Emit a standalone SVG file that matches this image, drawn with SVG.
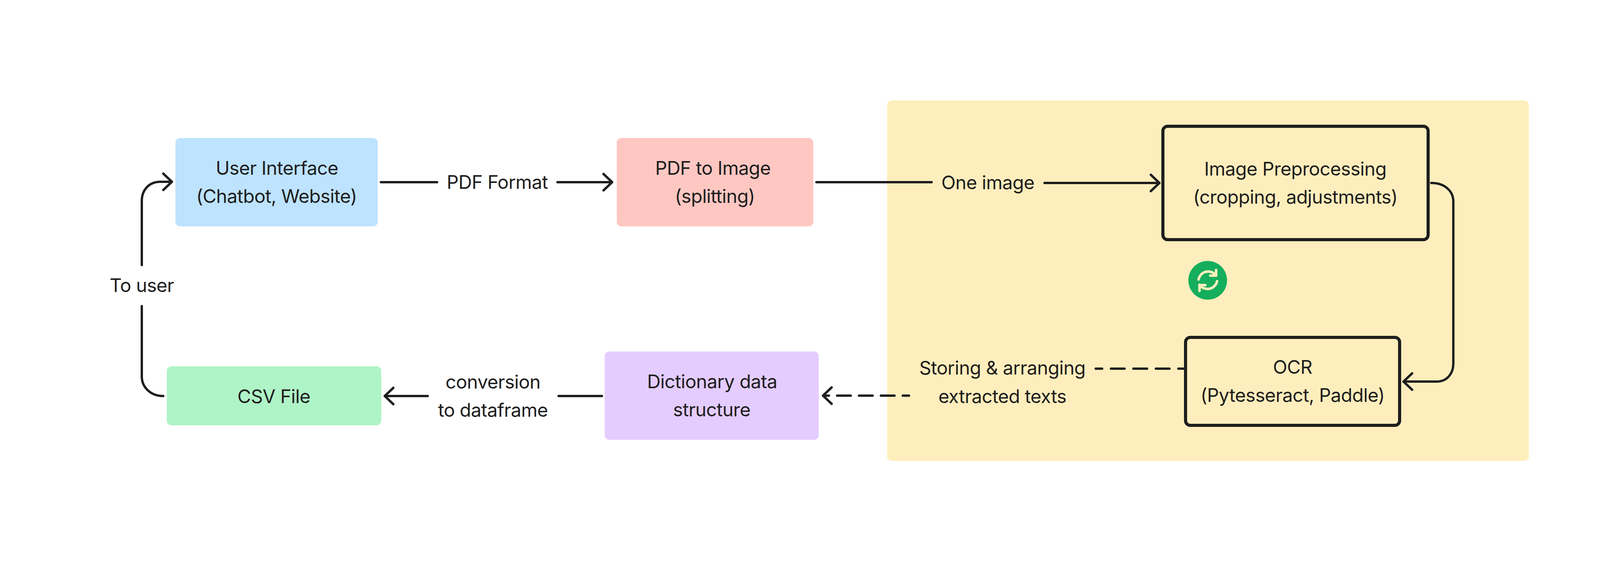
<svg xmlns="http://www.w3.org/2000/svg" width="4170" height="1435" viewBox="0 0 4170 1435">
<style>
text{font-family:Inter,"Liberation Sans",sans-serif;font-size:48px;fill:#1e1e1e;text-anchor:middle;letter-spacing:-0.7px}
.c{fill:none;stroke:#1e1e1e;stroke-width:6;stroke-linecap:round;stroke-linejoin:round}
.b{fill:none;stroke:#1e1e1e;stroke-width:8}
</style>
<defs>
<marker id="h" markerUnits="userSpaceOnUse" markerWidth="60" markerHeight="60" refX="40" refY="30" orient="auto" viewBox="0 0 60 60">
<path d="M18 9L40 30L18 51" fill="none" stroke="#1e1e1e" stroke-width="6" stroke-linecap="round" stroke-linejoin="round"/>
</marker>
</defs>
<rect width="4170" height="1435" fill="#fff"/>
<g id="group-ocr"><rect x="2271" y="257" width="1643" height="922" rx="12" fill="#FFEEBD"/></g>
<g id="connectors">
<path class="c" d="M975 466H1119"/>
<path class="c" d="M1427 466H1567" marker-end="url(#h)"/>
<path class="c" d="M2090 466H2385"/>
<path class="c" d="M2674 468H2968" marker-end="url(#h)"/>
<path class="c" d="M3664 468C3700 468 3720.500 490 3720.500 515V930C3720.500 955 3705 976 3678 976H3593" marker-end="url(#h)"/>
<path class="c" stroke-dasharray="35 22.500" stroke-dashoffset="20.500" d="M3031 943H2805"/>
<path class="c" stroke-dasharray="35 21" stroke-dashoffset="19" d="M2327 1012H2107" marker-end="url(#h)"/>
<path class="c" d="M1541 1013H1430"/>
<path class="c" d="M1095 1013H985" marker-end="url(#h)"/>
<path class="c" d="M418 1013C385 1013 363 990 363 963V783"/>
<path class="c" d="M363 678V513C363 488 380 465 410 465H440" marker-end="url(#h)"/>
</g>
<g id="node-user-interface"><rect x="449" y="353" width="518" height="226" rx="12" fill="#BDE3FF"/><text x="709" y="447">User Interface</text><text x="708" y="519">(Chatbot, Website)</text></g>
<g id="label-pdf-format"><text x="1273" y="483">PDF Format</text></g>
<g id="node-pdf-to-image"><rect x="1579" y="353" width="503" height="226" rx="12" fill="#FFC7C2"/><text x="1825" y="447">PDF to Image</text><text x="1830" y="519">(splitting)</text></g>
<g id="label-one-image"><text x="2529" y="484">One image</text></g>
<g id="node-image-preprocessing"><rect class="b" x="2977" y="323" width="679" height="290" rx="12"/><text x="3316" y="449">Image Preprocessing</text><text x="3316" y="521">(cropping, adjustments)</text></g>
<g id="icon-repeat"><circle cx="3091.700" cy="717" r="49.500" fill="#14AE5C"/>
<path d="M3068.300 715A25 25 0 0 1 3113.300 705M3113.300 690.700V705H3098.300M3115.700 719.300A25 25 0 0 1 3070.700 728.300M3070.700 744V729.300H3085.700" fill="none" stroke="#FFEEBD" stroke-width="6.500" stroke-linecap="round" stroke-linejoin="round"/></g>
<g id="node-ocr"><rect class="b" x="3035" y="863" width="548" height="225" rx="12"/><text x="3309" y="956">OCR</text><text x="3309" y="1028">(Pytesseract, Paddle)</text></g>
<g id="label-storing"><text x="2566" y="958">Storing &amp; arranging</text><text x="2566" y="1031">extracted texts</text></g>
<g id="node-dictionary"><rect x="1548" y="899" width="548" height="226" rx="12" fill="#E4CCFF"/><text x="1823" y="993">Dictionary data</text><text x="1822" y="1065">structure</text></g>
<g id="label-conversion"><text x="1262" y="994">conversion</text><text x="1262" y="1066">to dataframe</text></g>
<g id="node-csv"><rect x="427" y="937" width="549" height="151" rx="12" fill="#AFF4C6"/><text x="701" y="1031">CSV File</text></g>
<g id="label-to-user"><text x="363" y="747">To user</text></g>
</svg>
